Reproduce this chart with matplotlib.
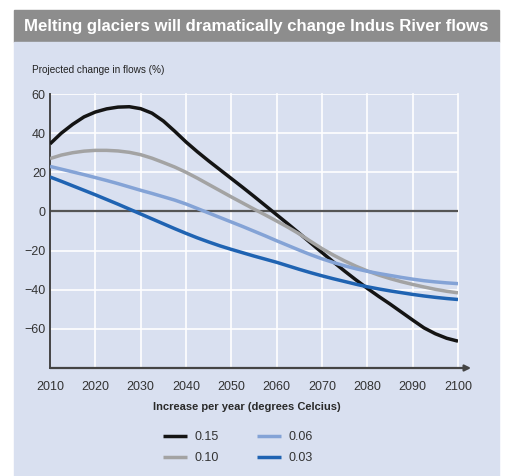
import matplotlib.pyplot as plt
from matplotlib.patches import Rectangle

# readings every 2.5 years, 2010-2100
years = [2010 + 2.5 * i for i in range(37)]

flow_015 = [34.5, 40, 44.5, 48.3, 50.8, 52.4, 53.3, 53.5, 52.5, 50.2, 46.2, 41, 35.5,
            30.5, 25.8, 21.3, 16.8, 12.3, 7.7, 3, -1.7, -6.4, -11.2, -16.1, -21, -25.8,
            -30.5, -35, -39.3, -43.4, -47.3, -51.4, -55.5, -59.5, -62.5, -64.8, -66.3]
flow_010 = [27, 28.8, 30, 30.8, 31.2, 31.2, 30.9, 30.2, 29, 27.2, 25, 22.7, 20,
            17, 13.8, 10.6, 7.4, 4.3, 1.2, -1.8, -4.9, -8.1, -11.5, -15.3, -19, -22.3,
            -25.3, -28, -30.4, -32.5, -34.3, -35.9, -37.3, -38.6, -39.8, -40.8, -41.6]
flow_006 = [23, 21.6, 20.2, 18.8, 17.3, 15.8, 14.2, 12.5, 10.8, 9.2, 7.5, 5.8, 3.8,
            1.5, -0.8, -3.1, -5.4, -7.7, -10.1, -12.5, -15, -17.4, -19.8, -22.1, -24.2,
            -26.1, -27.8, -29.3, -30.6, -31.7, -32.7, -33.7, -34.6, -35.4, -36, -36.5, -36.9]
flow_003 = [17.6, 15.4, 13.1, 10.8, 8.5, 6.1, 3.7, 1.2, -1.3, -3.8, -6.3, -8.8, -11.2,
            -13.5, -15.6, -17.6, -19.4, -21.1, -22.8, -24.4, -26, -27.8, -29.6, -31.3,
            -32.9, -34.4, -35.8, -37.2, -38.5, -39.6, -40.6, -41.5, -42.4, -43.2, -43.9,
            -44.5, -45]

series_labels = ['0.15', '0.10', '0.06', '0.03']
series_colors = ['#141414', '#a3a3a3', '#84a3d6', '#1f63b2']

x_ticks = list(range(2010, 2101, 10))
y_ticks = [-60, -40, -20, 0, 20, 40, 60]

sans = ['Liberation Sans', 'DejaVu Sans']
panel = '#d9e0f0'

fig = plt.figure(figsize=(5.05, 4.76), dpi=100)
fig.patch.set_facecolor('white')

W, H = 505, 476

# grey header strip and blue panel behind everything
fig.patches.append(Rectangle((14 / W, 1 - 42 / H), 485 / W, 32 / H,
                             transform=fig.transFigure, color='#8d8d8d', zorder=-10))
fig.patches.append(Rectangle((14 / W, 0), 485 / W, 1 - 42 / H,
                             transform=fig.transFigure, color=panel, zorder=-10))

fig.text(256 / W, 1 - 26 / H, 'Melting glaciers will dramatically change Indus River flows',
         ha='center', va='center', color='white', fontsize=12.1, fontweight='bold',
         family=sans)

ax = fig.add_axes([50 / W, 1 - 368 / H, 408 / W, 274 / H])
ax.set_facecolor(panel)
ax.set_xlim(2010, 2100)
ax.set_ylim(-80, 60)

for y in y_ticks:
    ax.axhline(y, color='white', lw=1.2, zorder=1)
for x in x_ticks:
    ax.axvline(x, color='white', lw=1.2, zorder=1, clip_on=False)
ax.axhline(0, color='#555555', lw=1.6, zorder=2)

vals = [flow_015, flow_010, flow_006, flow_003]
for v, lab, c in zip(vals, series_labels, series_colors):
    ax.plot(years, v, color=c, lw=2.5, label=lab, zorder=3,
            solid_capstyle='butt', solid_joinstyle='round')

for side in ['top', 'right']:
    ax.spines[side].set_visible(False)
ax.spines['left'].set_color('#444444')
ax.spines['left'].set_linewidth(1.4)
ax.spines['bottom'].set_visible(False)
ax.annotate('', xy=(1.032, 0), xytext=(0, 0), xycoords='axes fraction',
            arrowprops=dict(arrowstyle='-|>', color='#444444', lw=1.6,
                            mutation_scale=9, shrinkA=0, shrinkB=0))

ax.set_xticks(x_ticks)
ax.set_yticks(y_ticks)
ax.tick_params(length=0, colors='#333333', labelsize=9)
ax.tick_params(axis='x', pad=9)
ax.tick_params(axis='y', pad=3)
for t in ax.get_xticklabels() + ax.get_yticklabels():
    t.set_family(sans)

fig.text(32 / W, 1 - 70 / H, 'Projected change in flows (%)', ha='left', va='center',
         fontsize=7.2, color='#222222', family=sans)

fig.text(247 / W, 1 - 407 / H, 'Increase per year (degrees Celcius)', ha='center',
         va='center', fontsize=8, fontweight='bold', color='#2a2a2a', family=sans)

leg = fig.legend(loc='upper left', bbox_to_anchor=(163 / W, 1 - 431 / H), ncol=2,
                 frameon=False, prop={'family': sans, 'size': 9},
                 handlelength=1.9, handletextpad=0.6, columnspacing=3.1,
                 labelspacing=0.75, borderpad=0, borderaxespad=0)
for t in leg.get_texts():
    t.set_color('#333333')

fig.savefig('out.png', dpi=100)
